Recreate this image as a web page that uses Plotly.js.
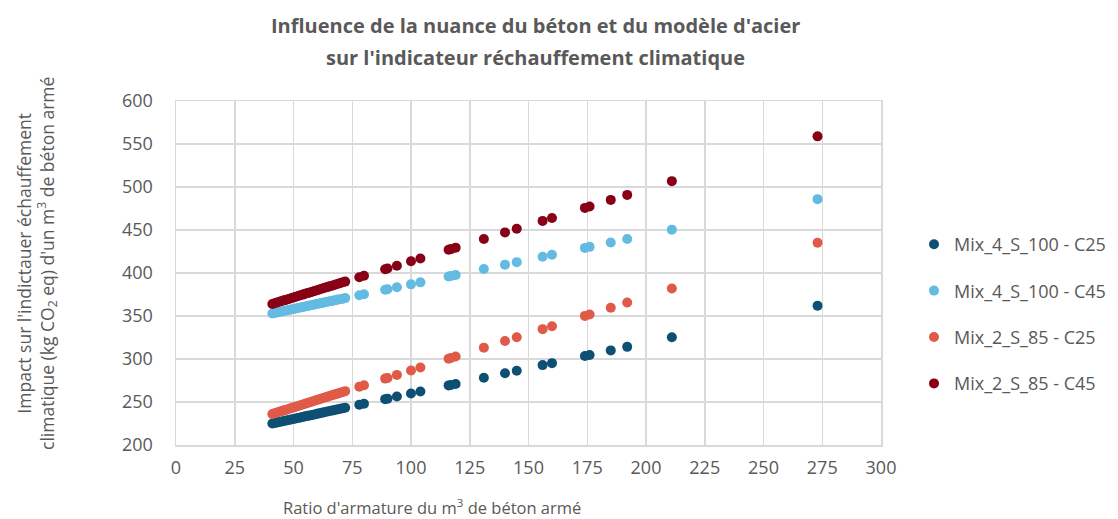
<!DOCTYPE html>
<html>
<head>
<meta charset="utf-8">
<script src="https://cdn.plot.ly/plotly-3.0.1.min.js"></script>
<style>html,body{margin:0;padding:0;background:#fff;}#chart{width:1118px;height:519px;}</style>
</head>
<body>
<div id="chart"></div>
<script>
const ratio = [41,42,43,44,45,46,47,48,49,50,51,52,53,54,55,56,57,58,59,60,61,62,63,64,65,66,67,68,69,70,71,72,78,80,89,90,94,100,104,116,117,119,131,140,145,156,160,174,176,185,192,211,273];

const mix4_C25 = [225.0,225.6,226.2,226.8,227.4,228.0,228.5,229.1,229.7,230.3,230.9,231.5,232.1,232.7,233.3,233.9,234.4,235.0,235.6,236.2,236.8,237.4,238.0,238.6,239.2,239.8,240.3,240.9,241.5,242.1,242.7,243.3,246.8,248.0,253.3,253.9,256.3,259.8,262.2,269.3,269.8,271.0,278.1,283.4,286.4,292.9,295.2,303.5,304.7,310.0,314.1,325.3,361.9];

const mix4_C45 = [353.0,353.6,354.1,354.7,355.3,355.9,356.4,357.0,357.6,358.2,358.7,359.3,359.9,360.4,361.0,361.6,362.2,362.7,363.3,363.9,364.5,365.0,365.6,366.2,366.8,367.3,367.9,368.5,369.1,369.6,370.2,370.8,374.2,375.3,380.5,381.1,383.4,386.8,389.1,396.0,396.5,397.7,404.6,409.7,412.6,418.9,421.2,429.2,430.4,435.5,439.5,450.4,485.9];

const mix2_C25 = [236.0,236.9,237.7,238.6,239.4,240.3,241.1,242.0,242.9,243.7,244.6,245.4,246.3,247.2,248.0,248.9,249.7,250.6,251.4,252.3,253.2,254.0,254.9,255.7,256.6,257.5,258.3,259.2,260.0,260.9,261.7,262.6,267.7,269.5,277.2,278.0,281.5,286.6,290.1,300.4,301.2,302.9,313.2,320.9,325.2,334.7,338.1,350.1,351.8,359.6,365.6,381.9,435.1];

const mix2_C45 = [364.0,364.8,365.7,366.5,367.4,368.2,369.0,369.9,370.7,371.6,372.4,373.2,374.1,374.9,375.8,376.6,377.4,378.3,379.1,380.0,380.8,381.6,382.5,383.3,384.2,385.0,385.8,386.7,387.5,388.4,389.2,390.0,395.1,396.8,404.3,405.2,408.5,413.6,416.9,427.0,427.8,429.5,439.6,447.2,451.4,460.6,464.0,475.7,477.4,485.0,490.8,506.8,558.9];

const seriesNames = ["Mix_4_S_100 - C25","Mix_4_S_100 - C45","Mix_2_S_85 - C25","Mix_2_S_85 - C45"];
const seriesValues = [mix4_C25, mix4_C45, mix2_C25, mix2_C45];
const seriesColors = ["#0d5073","#63bbe2","#e05a48","#880016"];

const xTicks = [0,25,50,75,100,125,150,175,200,225,250,275,300];
const yTicks = [200,250,300,350,400,450,500,550,600];

const titleLines = ["Influence de la nuance du béton et du modèle d'acier", "sur l'indicateur réchauffement climatique"];

const FONT = "'Open Sans', 'Liberation Sans', sans-serif";
const GRAY = "#595959";

const L = 176, R = 881, T = 101, B = 445;
const px = v => (v - L) / (R - L);
const py = v => (B - v) / (B - T);

const traces = seriesNames.map((n, i) => ({
  type: "scatter",
  mode: "markers",
  name: n,
  legendgroup: "g" + i,
  x: ratio,
  y: seriesValues[i],
  marker: {color: seriesColors[i], size: 10}
}));

const layout = {
  width: 1118, height: 519,
  margin: {l: L, r: 1118 - R, t: T, b: 519 - B, autoexpand: false},
  paper_bgcolor: "#ffffff",
  plot_bgcolor: "#ffffff",
  font: {family: FONT, color: GRAY, size: 16},
  xaxis: {
    range: [0, 300], tickvals: xTicks, ticktext: xTicks.map(String),
    showgrid: true, gridcolor: "#d9d9d9", gridwidth: 1.5,
    showline: true, linecolor: "#d9d9d9", linewidth: 1.5, mirror: true,
    zeroline: false, ticks: "", ticklabelstandoff: 6,
    tickfont: {family: FONT, size: 18, color: GRAY},
    automargin: false, fixedrange: true
  },
  yaxis: {
    range: [200, 600], tickvals: yTicks, ticktext: yTicks.map(String),
    showgrid: true, gridcolor: "#d9d9d9", gridwidth: 1.5,
    showline: true, linecolor: "#d9d9d9", linewidth: 1.5, mirror: true,
    zeroline: false, ticks: "", ticklabelstandoff: 18,
    tickfont: {family: FONT, size: 18, color: GRAY},
    automargin: false, fixedrange: true
  },
  legend: {
    x: px(914), xanchor: "left", y: py(226), yanchor: "top",
    traceorder: "grouped", tracegroupgap: 20,
    font: {family: FONT, size: 18, color: GRAY},
    itemwidth: 30, bgcolor: "rgba(0,0,0,0)"
  },
  annotations: [
    {
      text: "<b>" + titleLines[0] + "</b>",
      xref: "paper", yref: "paper", x: px(535), y: py(25),
      xanchor: "center", yanchor: "middle", showarrow: false,
      font: {family: FONT, size: 20, color: GRAY}
    },
    {
      text: "<b>" + titleLines[1] + "</b>",
      xref: "paper", yref: "paper", x: px(535), y: py(57),
      xanchor: "center", yanchor: "middle", showarrow: false,
      font: {family: FONT, size: 20, color: GRAY}
    },
    {
      text: "Ratio d'armature du m<sup>3</sup> de béton armé",
      xref: "paper", yref: "paper", x: px(432), y: py(507),
      xanchor: "center", yanchor: "middle", showarrow: false,
      font: {family: FONT, size: 16.5, color: GRAY}
    },
    {
      text: "Impact sur l'indictauer échauffement<br>climatique (kg CO<sub>2</sub> eq) d'un m<sup>3</sup> de béton armé",
      xref: "paper", yref: "paper", x: px(36), y: py(264),
      xanchor: "center", yanchor: "middle", showarrow: false, textangle: -90,
      font: {family: FONT, size: 17.5, color: GRAY}
    }
  ],
  showlegend: true
};

Plotly.newPlot("chart", traces, layout, {displayModeBar: false, staticPlot: true});
</script>
</body>
</html>
